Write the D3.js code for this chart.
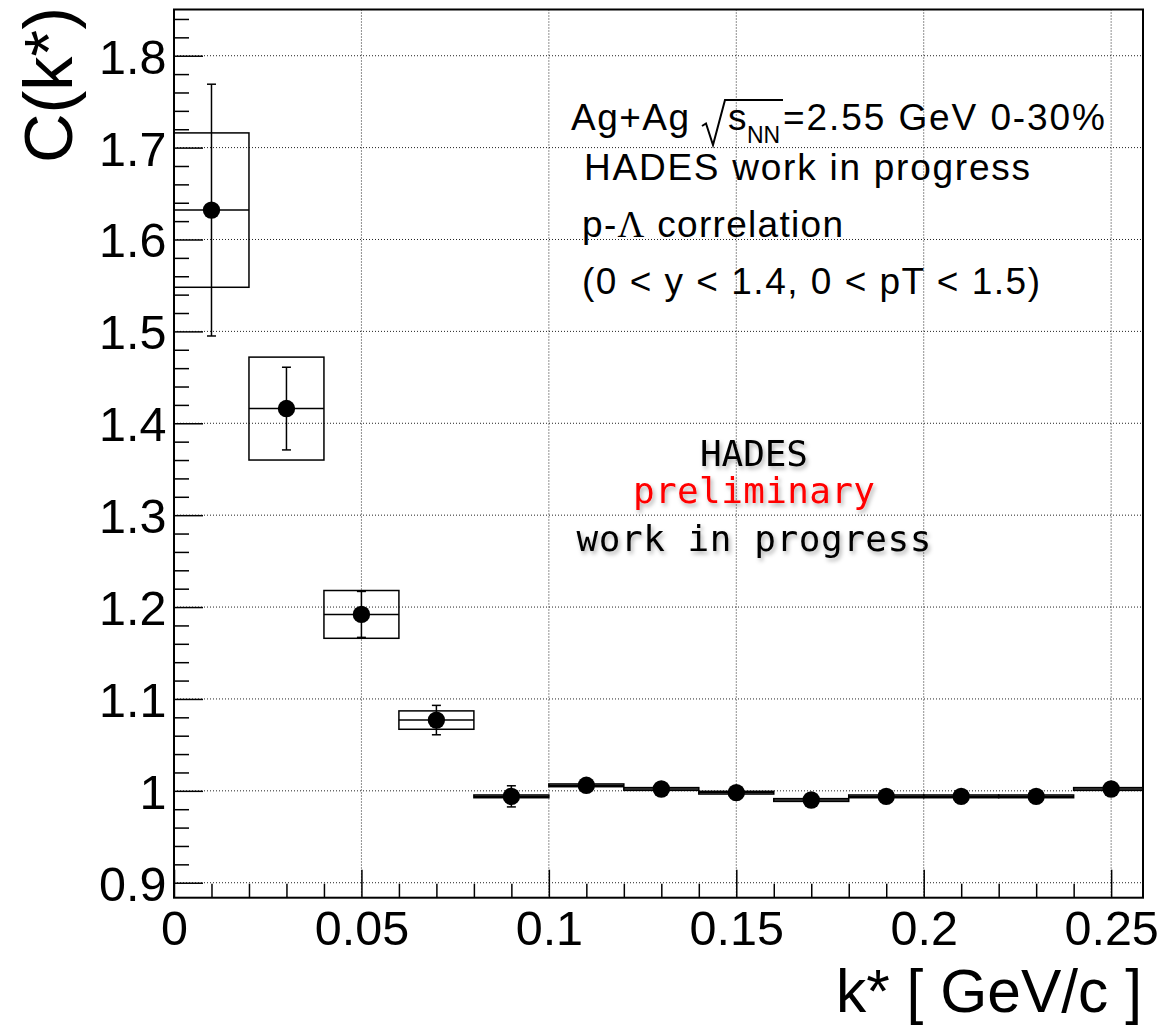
<!DOCTYPE html>
<html>
<head>
<meta charset="utf-8">
<script src="https://cdn.jsdelivr.net/npm/d3@7"></script>
<style>
  html, body { margin: 0; padding: 0; background: #fff; }
  svg { display: block; }
  text { font-family: "Liberation Sans", Arial, Helvetica, sans-serif; fill: #000; }
</style>
</head>
<body>
<svg id="chart" width="1165" height="1025"></svg>
<script>
// p-Lambda correlation function, bins of 0.02 GeV/c in k*
const binLow   = [0.00, 0.02, 0.04, 0.06, 0.08, 0.10, 0.12, 0.14, 0.16, 0.18, 0.20, 0.22, 0.24];
const binHigh  = [0.02, 0.04, 0.06, 0.08, 0.10, 0.12, 0.14, 0.16, 0.18, 0.20, 0.22, 0.24, 0.26];
const kCenter  = [0.01, 0.03, 0.05, 0.07, 0.09, 0.11, 0.13, 0.15, 0.17, 0.19, 0.21, 0.23, 0.25];
const cValue   = [1.632, 1.416, 1.192, 1.077, 0.994, 1.006, 1.002, 0.998, 0.990, 0.994, 0.994, 0.994, 1.002];
const statErr  = [0.137, 0.045, 0.025, 0.016, 0.0115, 0.006, 0.006, 0.006, 0.006, 0.006, 0.006, 0.006, 0.006];
const sysErr   = [0.084, 0.056, 0.026, 0.010, 0.0015, 0.0015, 0.0015, 0.0015, 0.0015, 0.0015, 0.0015, 0.0015, 0.0015];

// axis ticks and labels
const xMajor = [0, 0.05, 0.10, 0.15, 0.20, 0.25];
const xMajorLabels = ["0", "0.05", "0.1", "0.15", "0.2", "0.25"];
const xMinor = d3.range(1, 26).map(i => i / 100);
const yMajor = [0.9, 1.0, 1.1, 1.2, 1.3, 1.4, 1.5, 1.6, 1.7, 1.8];
const yMajorLabels = ["0.9", "1", "1.1", "1.2", "1.3", "1.4", "1.5", "1.6", "1.7", "1.8"];
const yMinor = d3.range(45, 93).map(i => i / 50);

const infoLines = ["HADES work in progress", "p-", "\u039B", " correlation", "(0 < y < 1.4, 0 < pT < 1.5)"];
const watermark = ["HADES", "preliminary", "work in progress"];

const svg = d3.select("#chart");
svg.append("rect").attr("width", 1165).attr("height", 1025).attr("fill", "#fff");

const frame = { left: 174, right: 1143, top: 9.5, bottom: 897.7 };
const x = d3.scaleLinear().domain([0, 0.2585]).range([frame.left, frame.right]);
const y = d3.scaleLinear().domain([0.8837, 1.8503]).range([frame.bottom, frame.top]);

const defs = svg.append("defs");
defs.append("clipPath").attr("id", "plotClip")
  .append("rect")
  .attr("x", frame.left).attr("y", frame.top)
  .attr("width", frame.right - frame.left).attr("height", frame.bottom - frame.top);
const shadow = defs.append("filter").attr("id", "softShadow")
  .attr("x", "-10%").attr("y", "-30%").attr("width", "130%").attr("height", "170%");
shadow.append("feDropShadow")
  .attr("dx", 2).attr("dy", 3).attr("stdDeviation", 2.2)
  .attr("flood-color", "#000").attr("flood-opacity", 0.3);

// dotted grid at major ticks
const grid = svg.append("g").attr("stroke", "#222").attr("stroke-width", 1)
  .attr("stroke-dasharray", "1 2").attr("fill", "none");
grid.selectAll("line.gx").data(xMajor.filter(v => v > 0)).join("line")
  .attr("x1", d => x(d)).attr("x2", d => x(d))
  .attr("y1", frame.top).attr("y2", frame.bottom);
grid.selectAll("line.gy").data(yMajor).join("line")
  .attr("x1", frame.left).attr("x2", frame.right)
  .attr("y1", d => y(d)).attr("y2", d => y(d));

// watermark text with a soft shadow
const wm = svg.append("g").attr("filter", "url(#softShadow)")
  .attr("text-anchor", "middle");
const wmBase = [466, 503, 551];
const wmWidth = [108, 242, 355];
wm.selectAll("text").data(watermark).join("text")
  .attr("x", 754).attr("y", (d, i) => wmBase[i])
  .attr("font-size", 36)
  .attr("textLength", (d, i) => wmWidth[i]).attr("lengthAdjust", "spacing")
  .style("font-family", "'DejaVu Sans Mono', monospace")
  .style("fill", (d, i) => i === 1 ? "#ff0000" : "#000")
  .text(d => d);

const data = kCenter.map((k, i) => ({
  k, lo: binLow[i], hi: binHigh[i], c: cValue[i], stat: statErr[i], sys: sysErr[i]
}));

// systematic boxes with central line
const boxes = svg.append("g").attr("clip-path", "url(#plotClip)")
  .attr("fill", "none").attr("stroke", "#000").attr("stroke-width", 1.5);
boxes.selectAll("rect").data(data).join("rect")
  .attr("x", d => x(d.lo)).attr("width", d => x(d.hi) - x(d.lo))
  .attr("y", d => y(d.c + d.sys)).attr("height", d => y(d.c - d.sys) - y(d.c + d.sys));
boxes.selectAll("line").data(data).join("line")
  .attr("x1", d => x(d.lo)).attr("x2", d => x(d.hi))
  .attr("y1", d => y(d.c)).attr("y2", d => y(d.c));

// statistical error bars
const errs = svg.append("g").attr("stroke", "#000").attr("stroke-width", 1.5);
data.forEach(d => {
  const cx = x(d.k);
  errs.append("line").attr("x1", cx).attr("x2", cx)
    .attr("y1", y(d.c + d.stat)).attr("y2", y(d.c - d.stat));
  [d.c + d.stat, d.c - d.stat].forEach(v => {
    errs.append("line").attr("x1", cx - 4.5).attr("x2", cx + 4.5)
      .attr("y1", y(v)).attr("y2", y(v));
  });
});

// markers
svg.append("g").selectAll("circle").data(data).join("circle")
  .attr("cx", d => x(d.k)).attr("cy", d => y(d.c)).attr("r", 8.7).attr("fill", "#000");

// axes: ticks drawn inside the frame
const yAxis = d3.axisLeft(y).tickValues(yMajor)
  .tickFormat((d, i) => yMajorLabels[i]).tickSizeInner(-29).tickSizeOuter(0).tickPadding(7.5);
const gy = svg.append("g").attr("transform", `translate(${frame.left},0)`).call(yAxis);
const yMinorAxis = d3.axisLeft(y).tickValues(yMinor.filter(v => !yMajor.some(m => Math.abs(m - v) < 1e-6)))
  .tickFormat("").tickSizeInner(-15).tickSizeOuter(0);
const gym = svg.append("g").attr("transform", `translate(${frame.left},0)`).call(yMinorAxis);

const xAxis = d3.axisBottom(x).tickValues(xMajor)
  .tickFormat((d, i) => xMajorLabels[i]).tickSizeInner(-28).tickSizeOuter(0).tickPadding(13);
const gx = svg.append("g").attr("transform", `translate(0,${frame.bottom})`).call(xAxis);
const xMinorAxis = d3.axisBottom(x).tickValues(xMinor.filter(v => !xMajor.some(m => Math.abs(m - v) < 1e-6)))
  .tickFormat("").tickSizeInner(-14).tickSizeOuter(0);
const gxm = svg.append("g").attr("transform", `translate(0,${frame.bottom})`).call(xMinorAxis);

[gy, gym, gx, gxm].forEach(g => {
  g.select(".domain").remove();
  g.selectAll(".tick line").attr("stroke", "#000").attr("stroke-width", 1.5);
  g.selectAll(".tick text").attr("font-size", 48.5).attr("fill", "#000")
    .style("font-family", "'Liberation Sans', Arial, sans-serif");
});
gy.selectAll(".tick text").attr("dy", "0.36em");

// frame
svg.append("rect")
  .attr("x", frame.left).attr("y", frame.top)
  .attr("width", frame.right - frame.left).attr("height", frame.bottom - frame.top)
  .attr("fill", "none").attr("stroke", "#000").attr("stroke-width", 2);

// axis titles
svg.append("text")
  .attr("transform", "translate(72,7) rotate(-90)")
  .attr("text-anchor", "end").attr("font-size", 69)
  .attr("textLength", 156).attr("lengthAdjust", "spacingAndGlyphs")
  .text("C(k*)");
svg.append("text")
  .attr("x", 1142).attr("y", 1011.5)
  .attr("text-anchor", "end").attr("font-size", 62)
  .attr("textLength", 306).attr("lengthAdjust", "spacingAndGlyphs")
  .text("k* [ GeV/c ]");

// info block
const info = svg.append("g").attr("font-size", 37);
info.append("text").attr("x", 571).attr("y", 130)
  .attr("textLength", 118).attr("lengthAdjust", "spacing").text("Ag+Ag");
// radical sign over s_NN
const rx = 702;
info.append("path")
  .attr("d", `M${rx},126 L${rx + 4},123.5 L${rx + 11},145 L${rx + 23},100 L${rx + 81},100`)
  .attr("fill", "none").attr("stroke", "#000").attr("stroke-width", 2);
info.append("text").attr("x", 728).attr("y", 130).text("s");
info.append("text").attr("x", 747).attr("y", 143).attr("font-size", 23).text("NN");
info.append("text").attr("x", 783).attr("y", 130)
  .attr("textLength", 322).attr("lengthAdjust", "spacing").text("=2.55 GeV 0-30%");

info.append("text").attr("x", 584).attr("y", 180)
  .attr("textLength", 446).attr("lengthAdjust", "spacing").text(infoLines[0]);
const l3 = info.append("text").attr("x", 582).attr("y", 237).style("letter-spacing", "1.3px");
l3.append("tspan").text(infoLines[1]);
l3.append("tspan").style("font-family", "'Liberation Serif', 'Times New Roman', serif").text(infoLines[2]);
l3.append("tspan").text(infoLines[3]);
info.append("text").attr("x", 582).attr("y", 294)
  .attr("textLength", 458).attr("lengthAdjust", "spacing").text(infoLines[4]);
</script>
</body>
</html>
